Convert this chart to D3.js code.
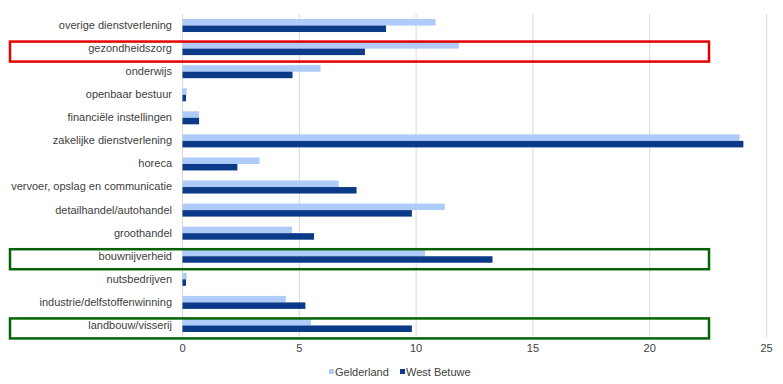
<!DOCTYPE html>
<html><head><meta charset="utf-8">
<script src="https://cdn.jsdelivr.net/npm/d3@7"></script>
<style>
body{margin:0;background:#fff;}
text{font-family:"Liberation Sans",Arial,sans-serif;font-size:11px;fill:#404040;}
</style></head>
<body><svg id="c" width="783" height="384"></svg>
<script>
const categories = ["overige dienstverlening","gezondheidszorg","onderwijs","openbaar bestuur","financiële instellingen","zakelijke dienstverlening","horeca","vervoer, opslag en communicatie","detailhandel/autohandel","groothandel","bouwnijverheid","nutsbedrijven","industrie/delfstoffenwinning","landbouw/visserij"];
const seriesNames = ["Gelderland","West Betuwe"];
const gelderland = [10.83,11.83,5.91,0.18,0.71,23.85,3.30,6.68,11.23,4.69,10.38,0.18,4.42,5.50];
const westBetuwe = [8.71,7.81,4.71,0.15,0.71,24.01,2.35,7.45,9.82,5.63,13.27,0.15,5.26,9.82];
const xTicks = [0,5,10,15,20,25];
const highlightRed = ["gezondheidszorg"];
const highlightGreen = ["bouwnijverheid","landbouw/visserij"];
const colors = ["#aecbfa","#0b3a88"];

const svg = d3.select("#c");
const x = d3.scaleLinear().domain([0,25]).range([182.5,766.5]);
const y = d3.scaleBand().domain(categories).range([14,337]);
const inner = d3.scaleBand().domain(seriesNames).range([y.bandwidth()/2-6.5, y.bandwidth()/2+6.5]);

// grid
svg.append("g").selectAll("line").data(xTicks).join("line")
  .attr("x1",d=>x(d)).attr("x2",d=>x(d)).attr("y1",14).attr("y2",337)
  .attr("stroke","#d9d9d9").attr("stroke-width",1);

// bars
const data = categories.map((c,i)=>({c, vals:[gelderland[i], westBetuwe[i]]}));
const g = svg.append("g").selectAll("g").data(data).join("g")
  .attr("transform",d=>`translate(0,${y(d.c)})`);
g.selectAll("rect").data(d=>d.vals.map((v,j)=>({v,s:seriesNames[j],j}))).join("rect")
  .attr("x",x(0)).attr("y",d=>inner(d.s)).attr("height",inner.bandwidth())
  .attr("width",d=>x(d.v)-x(0)).attr("fill",d=>colors[d.j]);

// y labels
svg.append("g").selectAll("text").data(categories).join("text")
  .attr("x",172).attr("y",d=>y(d)+y.bandwidth()/2+0.5).attr("text-anchor","end")
  .attr("dominant-baseline","middle").text(d=>d);

// x tick labels
svg.append("g").selectAll("text").data(xTicks).join("text")
  .attr("x",d=>x(d)).attr("y",352).attr("text-anchor","middle").text(d=>d);

// highlight boxes
function box(cat,color){
  svg.append("rect").attr("x",10).attr("y",y(cat)+4.5).attr("width",699).attr("height",20)
    .attr("fill","none").attr("stroke",color).attr("stroke-width",2.5);
}
highlightRed.forEach(c=>box(c,"#e30000"));
highlightGreen.forEach(c=>box(c,"#056305"));

// legend
const leg = svg.append("g");
const legX = [329,400];
seriesNames.forEach((s,i)=>{
  leg.append("rect").attr("x",legX[i]).attr("y",369).attr("width",5).attr("height",5).attr("fill",colors[i]);
  leg.append("text").attr("x",legX[i]+6).attr("y",375.5).text(s);
});
</script></body></html>
